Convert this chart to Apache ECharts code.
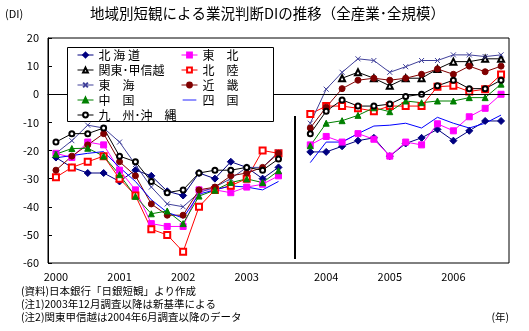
<!DOCTYPE html>
<html>
<head>
<meta charset="utf-8">
<script src="https://cdn.jsdelivr.net/npm/echarts@6/dist/echarts.min.js"></script>
<style>
html,body{margin:0;padding:0;background:#fff;}
#chart{width:529px;height:331px;}
</style>
</head>
<body>
<div id="chart"></div>
<script>
// Quarterly survey months; index 15 is the break between old and new standard
const categories = [
  '2000/3','2000/6','2000/9','2000/12','2001/3','2001/6','2001/9','2001/12',
  '2002/3','2002/6','2002/9','2002/12','2003/3','2003/6','2003/9','gap',
  '2003/12','2004/3','2004/6','2004/9','2004/12','2005/3','2005/6','2005/9',
  '2005/12','2006/3','2006/6','2006/9','2006/12'
];
const yTicks = [20, 10, 0, -10, -20, -30, -40, -50, -60];

const hokkaido = [-22.5,-26,-28,-28,-31,-27,-29,-34.5,-36,-28,-30,-24,-26,-30,-26, null,
  -20.5,-20.5,-18.5,-16.5,-15.5,-22,-17.5,-15.5,-12.5,-16.5,-13,-9.5,-9.5];
const tohoku = [-21,-22.5,-17,-18,-27,-34,-46,-47,-47,-34,-34,-35,-33,-32,-29, null,
  -18,-15,-17,-14,-16,-22,-17,-18,-10.5,-13,-8,-5,0];
const kanto = [null,null,null,null,null,null,null,null,null,null,null,null,null,null,null, null,
  null,null,5.7,7.8,5.7,3,5.7,5.7,9,11.6,11.6,12.6,12.6];
const hokuriku = [-29.5,-26,-24,-22,-30,-36,-48,-50,-56,-40,-34,-32.5,-30,-20,-21, null,
  -7,-4.2,-4.2,-5,-6,-4.2,-4.2,-4.2,2.7,3,1,1.8,7];
const tokai = [-21,-16.5,-11,-12,-17,-25,-33,-39,-40,-35,-33,-30,-26,-26,-20.5, null,
  -10.3,1.8,7.8,12.6,12,7.8,9.8,12,12,14,14,13.4,14];
const kinki = [-27,-22,-18,-14,-24,-29,-39,-43,-43,-34,-33,-29,-28,-26,-21, null,
  -12,-4.6,2,5,5.7,5,5.7,7.1,9,7.1,10,8,10];
const chugoku = [-21.3,-19.3,-19.2,-22,-28.6,-36.3,-42.5,-41.5,-46,-36.2,-34.1,-31.4,-30.1,-31.4,-27.2, null,
  -18.3,-10.3,-9.4,-7.5,-4.8,-6.2,-2.4,-3,-2.4,-2.4,-1.2,-1.2,3.6];
const shikoku = [-22.6,-21.8,-21,-20.4,-26,-31,-37.5,-42,-44,-35.5,-34,-32.6,-33,-34,-31, null,
  -24.3,-17,-17,-14,-11.3,-11,-10.3,-12,-8.2,-10.3,-12,-10.3,-7.4];
const kyushu = [-17,-14,-14,-12,-22,-24,-31,-35,-34,-28,-27,-27,-26,-27,-23, null,
  -14,-6,-2,-4.2,-4.2,-3.5,-0.8,0,3,5,2,2,5];

const breakIndex = 15;
const breakTop = -7.7, breakBottom = -58.6;

const FONT = '"Noto Sans CJK JP", "Noto Sans", sans-serif';
const XMARK = 'path://M0,0L10,10M10,0L0,10';
const LINE_ICON = 'path://M0,0M16,7M0,3H16V4H0Z';

function mk(name, data, color, symbol, size, extra) {
  const s = {
    name: name, type: 'line', data: data, connectNulls: false,
    symbol: symbol, symbolSize: size, showSymbol: symbol !== 'none',
    lineStyle: {color: color, width: 1},
    itemStyle: {color: color, borderColor: color, borderWidth: 1},
    emphasis: {disabled: true}, animation: false, z: 3
  };
  return Object.assign(s, extra || {});
}

const series = [
  mk('北 海 道', hokkaido, '#000080', 'diamond', 7, {
    markLine: {
      silent: true, symbol: 'none', animation: false,
      label: {show: false},
      lineStyle: {color: '#000', width: 1, type: 'solid'},
      emphasis: {disabled: true},
      data: [
        {yAxis: 0},
        [{coord: [breakIndex, breakTop], lineStyle: {width: 2, color: '#000', type: 'solid'}},
         {coord: [breakIndex, breakBottom]}]
      ]
    }
  }),
  mk('東　北', tohoku, '#FF00FF', 'rect', 6),
  mk('関東･甲信越', kanto, '#000000', 'emptyTriangle', 6),
  mk('北　陸', hokuriku, '#FF0000', 'emptyRect', 6),
  mk('東　海', tokai, '#40409a', XMARK, 5),
  mk('近　畿', kinki, '#800000', 'circle', 6),
  mk('中　国', chugoku, '#008000', 'triangle', 6),
  mk('四　国', shikoku, '#0000FF', 'none', 0),
  mk('九　州･沖　縄', kyushu, '#000000', 'emptyCircle', 5)
];

const legendCommon = {
  orient: 'vertical', top: 48, itemGap: 1, itemWidth: 16, itemHeight: 6,
  selectedMode: false, padding: 0, z: 10,
  lineStyle: {width: 1},
  textStyle: {fontSize: 12, color: '#000', fontFamily: FONT, lineHeight: 14}
};

const chart = echarts.init(document.getElementById('chart'), null, {renderer: 'canvas'});
chart.setOption({
  animation: false,
  backgroundColor: '#fff',
  textStyle: {fontFamily: FONT},
  grid: {left: 48, right: 20, top: 38, bottom: 68, show: true, borderColor: '#000', borderWidth: 1, backgroundColor: 'transparent'},
  legend: [
    Object.assign({left: 77, data: ['北 海 道', '関東･甲信越', '東　海', '中　国', '九　州･沖　縄']}, legendCommon),
    Object.assign({left: 181, data: ['東　北', '北　陸', '近　畿', {name: '四　国', icon: LINE_ICON, itemStyle: {color: '#0000FF', borderWidth: 0}}]}, legendCommon)
  ],
  xAxis: {
    type: 'category', data: categories, boundaryGap: true,
    axisLine: {lineStyle: {color: '#000', width: 1}},
    axisTick: {show: false},
    splitLine: {show: false},
    axisLabel: {
      interval: 0, margin: 8, fontSize: 11, color: '#000', fontFamily: FONT,
      formatter: function (v) { return /\/3$/.test(v) ? v.split('/')[0] : ''; }
    }
  },
  yAxis: {
    type: 'value', min: yTicks[yTicks.length - 1], max: yTicks[0], interval: 10,
    axisLine: {show: true, lineStyle: {color: '#000', width: 1}},
    axisTick: {show: true, inside: true, length: 4, lineStyle: {color: '#000'}},
    splitLine: {show: false},
    axisLabel: {margin: 9, fontSize: 11, color: '#000', fontFamily: FONT}
  },
  graphic: [
    {type: 'rect', z: 9, shape: {x: 67.5, y: 47.5, width: 206, height: 74},
     style: {fill: '#fff', stroke: '#000', lineWidth: 1}},
    {type: 'text', left: 5, top: 8, z: 10,
     style: {text: '(DI)', fontSize: 11, fill: '#000', fontFamily: FONT}},
    {type: 'text', left: 90, top: 6, z: 10,
     style: {text: '地域別短観による業況判断DIの推移（全産業･全規模）', fontSize: 14.5, fill: '#000', fontFamily: FONT}},
    {type: 'text', left: 21, top: 286, z: 10,
     style: {text: '(資料)日本銀行「日銀短観」より作成', fontSize: 10.5, fill: '#000', fontFamily: FONT}},
    {type: 'text', left: 21, top: 299, z: 10,
     style: {text: '(注1)2003年12月調査以降は新基準による', fontSize: 10.5, fill: '#000', fontFamily: FONT}},
    {type: 'text', left: 21, top: 312, z: 10,
     style: {text: '(注2)関東甲信越は2004年6月調査以降のデータ', fontSize: 10.5, fill: '#000', fontFamily: FONT}},
    {type: 'text', right: 20, top: 312, z: 10,
     style: {text: '(年)', fontSize: 10.5, fill: '#000', fontFamily: FONT}}
  ],
  series: series
});
</script>
</body>
</html>
